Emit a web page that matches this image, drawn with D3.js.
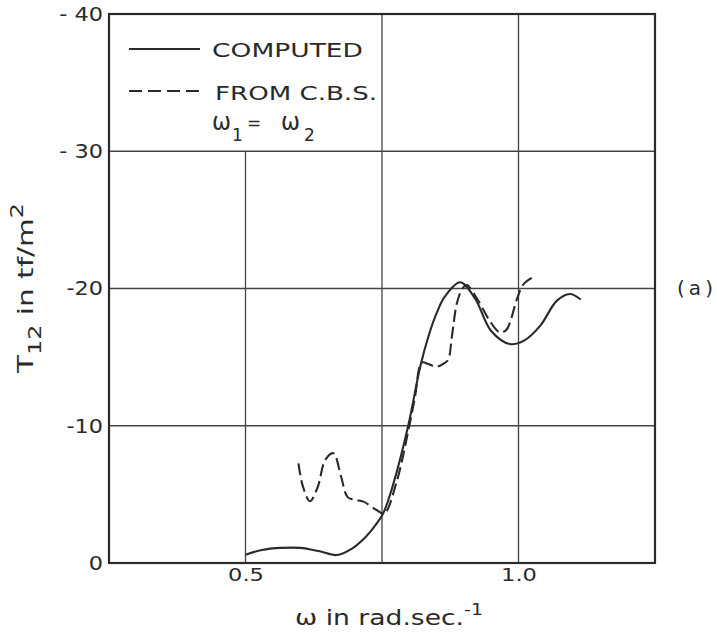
<!DOCTYPE html>
<html>
<head>
<meta charset="utf-8">
<script src="https://cdn.jsdelivr.net/npm/d3@7"></script>
<style>
  html, body { margin: 0; padding: 0; background: #fff; }
  svg text { font-family: "DejaVu Sans", sans-serif; fill: #2a2a2a; }
</style>
</head>
<body>
<svg id="chart" width="717" height="634"></svg>
<script>
// Frequency (rad/s) and stress T12 (tf/m^2) for the computed response
const computedOmega = [0.50, 0.53, 0.565, 0.60, 0.636, 0.667, 0.695, 0.72, 0.735, 0.752, 0.771, 0.798, 0.82, 0.835, 0.85, 0.865, 0.893, 0.92, 0.95, 0.984, 1.01, 1.04, 1.07, 1.094, 1.114];
const computedT     = [-0.6, -0.95, -1.1, -1.1, -0.85, -0.58, -1.05, -1.9, -2.6, -3.6, -5.8, -10.0, -14.3, -16.5, -18.2, -19.4, -20.45, -19.3, -16.9, -15.95, -16.2, -17.3, -19.1, -19.6, -19.2];

// Values derived from the C.B.S. approach
const cbsOmega = [0.597, 0.605, 0.618, 0.632, 0.646, 0.661, 0.675, 0.687, 0.70, 0.716, 0.74, 0.754, 0.776, 0.798, 0.81, 0.823, 0.835, 0.85, 0.862, 0.871, 0.878, 0.887, 0.896, 0.905, 0.925, 0.948, 0.966, 0.978, 0.997, 1.009, 1.03];
const cbsT     = [-7.26, -5.6, -4.5, -5.5, -7.5, -8.0, -6.3, -4.8, -4.6, -4.47, -3.86, -3.6, -5.8, -9.6, -12.0, -14.6, -14.5, -14.3, -14.5, -14.8, -16.5, -18.9, -19.9, -20.25, -19.2, -17.6, -16.8, -17.0, -19.2, -20.3, -20.9];

// Axis ticks and labels
const xTicks = [0.5, 0.75, 1.0];
const xTickLabels = ["0.5", "", "1.0"];
const yTicks = [0, -10, -20, -30, -40];
const yTickLabels = ["0", "-10", "-20", "- 30", "- 40"];

const svg = d3.select("#chart");
const plotLeft = 109, plotRight = 655, plotTop = 14, plotBottom = 563;

const x = d3.scaleLinear().domain([0.25, 1.25]).range([plotLeft, plotRight]);
const y = d3.scaleLinear().domain([0, -40]).range([plotBottom, plotTop]);

const ink = "#2a2a2a";

// Stretch text horizontally to imitate wide stencil lettering
function widen(sel, factor) {
  sel.each(function () {
    const w = this.getComputedTextLength();
    if (w > 0) d3.select(this).attr("textLength", w * factor).attr("lengthAdjust", "spacingAndGlyphs");
  });
}

// Grid lines
svg.append("g").selectAll("line").data(xTicks).join("line")
  .attr("x1", d => x(d)).attr("x2", d => x(d))
  .attr("y1", y(0)).attr("y2", d => d === 0.5 ? y(-30) : y(-40))
  .attr("stroke", "#444").attr("stroke-width", 1.3);
svg.append("g").selectAll("line").data([-10, -20, -30]).join("line")
  .attr("x1", plotLeft).attr("x2", plotRight)
  .attr("y1", d => y(d)).attr("y2", d => y(d))
  .attr("stroke", "#444").attr("stroke-width", 1.3);

// Frame
svg.append("rect")
  .attr("x", plotLeft).attr("y", plotTop)
  .attr("width", plotRight - plotLeft).attr("height", plotBottom - plotTop)
  .attr("fill", "none").attr("stroke", ink).attr("stroke-width", 2.2);

// Tick labels via axes
const yAxis = d3.axisLeft(y).tickValues(yTicks).tickSize(0).tickPadding(6)
  .tickFormat((d, i) => yTickLabels[i]);
const gy = svg.append("g").attr("transform", `translate(${plotLeft},0)`).call(yAxis);
gy.select(".domain").remove();
gy.selectAll("text").style("font-size", "20px").attr("fill", ink)
  .style("font-family", "'DejaVu Sans', sans-serif");
widen(gy.selectAll("text"), 1.12);

const xAxis = d3.axisBottom(x).tickValues(xTicks).tickSize(0).tickPadding(5)
  .tickFormat((d, i) => xTickLabels[i]);
const gx = svg.append("g").attr("transform", `translate(0,${plotBottom})`).call(xAxis);
gx.select(".domain").remove();
gx.selectAll("text").style("font-size", "18px").attr("fill", ink)
  .style("font-family", "'DejaVu Sans', sans-serif");
widen(gx.selectAll("text"), 1.25);

// Curves
const line = d3.line().x(d => x(d[0])).y(d => y(d[1])).curve(d3.curveCatmullRom.alpha(0.5));
const computed = computedOmega.map((w, i) => [w, computedT[i]]);
const cbs = cbsOmega.map((w, i) => [w, cbsT[i]]);

svg.append("path").datum(cbs).attr("d", line)
  .attr("fill", "none").attr("stroke", ink).attr("stroke-width", 2.1)
  .attr("stroke-dasharray", "12,5");
svg.append("path").datum(computed).attr("d", line)
  .attr("fill", "none").attr("stroke", ink).attr("stroke-width", 2.1);

// Legend
const lg = svg.append("g");
lg.append("line").attr("x1", 129).attr("x2", 200).attr("y1", 49).attr("y2", 49)
  .attr("stroke", ink).attr("stroke-width", 2);
lg.append("text").attr("x", 212).attr("y", 57).style("font-size", "20px")
  .attr("textLength", 151).attr("lengthAdjust", "spacingAndGlyphs").text("COMPUTED");
lg.append("line").attr("x1", 129).attr("x2", 200).attr("y1", 91).attr("y2", 91)
  .attr("stroke", ink).attr("stroke-width", 2).attr("stroke-dasharray", "13,6");
lg.append("text").attr("x", 215).attr("y", 100).style("font-size", "20px")
  .attr("textLength", 162).attr("lengthAdjust", "spacingAndGlyphs").text("FROM C.B.S.");
lg.append("text").attr("x", 212).attr("y", 130).style("font-size", "24px")
  .attr("textLength", 19).attr("lengthAdjust", "spacingAndGlyphs").text("ω");
lg.append("text").attr("x", 232).attr("y", 141).style("font-size", "17px").text("1");
lg.append("text").attr("x", 247).attr("y", 129).style("font-size", "17px").text("=");
lg.append("text").attr("x", 281).attr("y", 130).style("font-size", "24px")
  .attr("textLength", 19).attr("lengthAdjust", "spacingAndGlyphs").text("ω");
lg.append("text").attr("x", 304).attr("y", 141).style("font-size", "17px").text("2");

// Axis titles
const xt = svg.append("text").attr("x", 295).attr("y", 625).style("font-size", "21px")
  .attr("textLength", 188).attr("lengthAdjust", "spacingAndGlyphs");
xt.append("tspan").text("ω  in  rad.sec.");
xt.append("tspan").attr("dy", -10).style("font-size", "15px").text("-1");

const yt = svg.append("text")
  .attr("transform", `translate(33,373) rotate(-90)`)
  .style("font-size", "21px")
  .attr("textLength", 170).attr("lengthAdjust", "spacingAndGlyphs");
yt.append("tspan").text("T");
yt.append("tspan").attr("dy", 8).style("font-size", "17px").text("12");
yt.append("tspan").attr("dy", -8).text("  in  tf/m");
yt.append("tspan").attr("dy", -10).style("font-size", "17px").text("2");

// Panel label
svg.append("text").attr("x", 677).attr("y", 295).style("font-size", "20px")
  .attr("textLength", 36).attr("lengthAdjust", "spacing").text("(a)");
</script>
</body>
</html>
